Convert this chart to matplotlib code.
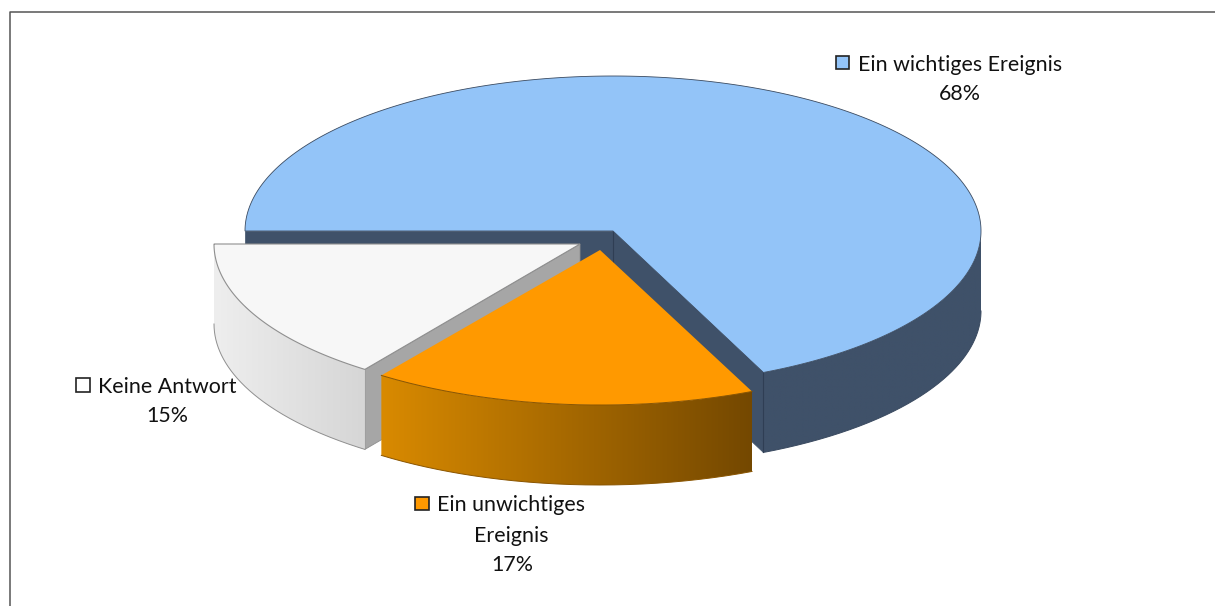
import numpy as np
import matplotlib
matplotlib.use("Agg")
import matplotlib.pyplot as plt
from matplotlib.colors import LinearSegmentedColormap
from matplotlib.patches import Polygon, Rectangle

categories = ["Ein wichtiges Ereignis", "Ein unwichtiges\nEreignis", "Keine Antwort"]
percent_labels = [68, 17, 15]
slice_shares = [68.3, 16.7, 15.0]

W, H = 1215, 606
RXS = [368, 372, 366]
RY, DEPTH = 155, 80
START_ANGLE = 180.0
centers = [(613, 231), (600, 250), (580, 244)]
top_colors = ["#93c4f8", "#ff9900", "#f7f7f7"]
swatch_colors = ["#93c4f8", "#ff9900", "#ffffff"]
wall_colors = [("#3f5169", "#3f5169"), ("#d98a00", "#744800"), ("#eeeeee", "#d6d6d6")]
edge_colors = ["#3a4a60", "#8a5500", "#8f8f8f"]
radial_colors = ["#3f5169", None, "#a6a6a6"]
swatch_xy = [(835.5, 55.5), (415, 496.5), (76, 378)]
label_centers = [960, 511, 167]
label_baselines = [[71], [511, 542], [393]]
pct_baselines = [100, 571, 422]
pct_centers = [960, 512, 167]

plt.rcParams["font.family"] = ["Lato", "DejaVu Sans"]
fig = plt.figure(figsize=(W / 100, H / 100), dpi=100)
ax = fig.add_axes([0, 0, 1, 1])
ax.set_xlim(0, W)
ax.set_ylim(H, 0)
ax.axis("off")

def point(c, rx, a):
    t = np.radians(a)
    return c[0] + rx * np.cos(t), c[1] - RY * np.sin(t)

def arc(c, rx, a0, a1, n=200):
    t = np.radians(np.linspace(a0, a1, n))
    return np.column_stack([c[0] + rx * np.cos(t), c[1] - RY * np.sin(t)])

def rim(c, rx, a0, a1, left, right, edge, z):
    pts = arc(c, rx, a0, a1, 300)
    pts = pts[np.argsort(pts[:, 0])]
    lower = pts + [0, DEPTH]
    outline = np.vstack([pts, lower[::-1]])
    clip = Polygon(outline, closed=True, fc="none", ec="none", transform=ax.transData)
    ax.add_patch(clip)
    cmap = LinearSegmentedColormap.from_list("wall", [left, right])
    im = ax.imshow(np.linspace(0, 1, 256).reshape(1, -1), cmap=cmap, aspect="auto",
                   extent=[pts[0, 0], pts[-1, 0], outline[:, 1].max(), outline[:, 1].min()],
                   zorder=z, interpolation="bilinear")
    im.set_clip_path(clip)
    ax.plot(lower[:, 0], lower[:, 1], color=edge, lw=0.7, zorder=z + 0.1)

bounds = START_ANGLE - np.cumsum([0] + slice_shares) * 3.6

# blue slice: inner walls, outer wall, top
c = centers[0]; rx = RXS[0]; a0, a1 = bounds[0], bounds[1]
for a in (a0, a1):
    p = point(c, rx, a)
    ax.add_patch(Polygon([c, p, (p[0], p[1] + DEPTH), (c[0], c[1] + DEPTH)], closed=True,
                         fc=radial_colors[0], ec=radial_colors[0], lw=0.5, zorder=1))
ax.plot([c[0], c[0]], [c[1], c[1] + DEPTH], color="#2f3e54", lw=0.8, zorder=1.1)
e = point(c, rx, a1)
rim(c, rx, a1, 0, *wall_colors[0], edge_colors[0], 2)
ax.plot([e[0], e[0]], [e[1], e[1] + DEPTH], color="#2f3e54", lw=0.8, zorder=2.5)
top = np.vstack([[c], arc(c, rx, a0, a1, 500)])
ax.add_patch(Polygon(top, closed=True, fc=top_colors[0], ec=edge_colors[0], lw=0.6, zorder=3))

# white slice
c = centers[2]; rx = RXS[2]; a0, a1 = bounds[2], bounds[3]
p = point(c, rx, a0)
ax.add_patch(Polygon([c, p, (p[0], p[1] + DEPTH), (c[0], c[1] + DEPTH)], closed=True,
                     fc=radial_colors[2], ec="#8f8f8f", lw=0.6, zorder=4))
rim(c, rx, a1, a0, *wall_colors[2], edge_colors[2], 5)
ax.add_patch(Polygon(np.vstack([[c], arc(c, rx, a0, a1)]), closed=True, fc=top_colors[2],
                     ec=edge_colors[2], lw=0.8, zorder=6))

# orange slice
c = centers[1]; rx = RXS[1]; a0, a1 = bounds[1], bounds[2]
rim(c, rx, a1, a0, *wall_colors[1], edge_colors[1], 7)
ax.add_patch(Polygon(np.vstack([[c], arc(c, rx, a0, a1)]), closed=True, fc=top_colors[1],
                     ec="none", zorder=8))
ax.plot(*arc(c, rx, a0, a1).T, color=edge_colors[1], lw=0.7, zorder=8.1)

ax.set_xlim(0, W)
ax.set_ylim(H, 0)

# labels
for i, name in enumerate(categories):
    ax.add_patch(Rectangle(swatch_xy[i], 13.5, 13.5, fc=swatch_colors[i], ec="#222222", lw=1.2, zorder=10))
    for line, base in zip(name.split("\n"), label_baselines[i]):
        ax.text(label_centers[i], base, line, fontsize=15.4, color="#111111",
                ha="center", va="baseline", zorder=10)
    ax.text(pct_centers[i], pct_baselines[i], f"{percent_labels[i]}%", fontsize=15.4,
            color="#111111", ha="center", va="baseline", zorder=10)

# chart frame, open to the right and bottom of the crop
ax.plot([10, 10, W], [H, 11.5, 11.5], color="#555555", lw=1.1, zorder=11)

fig.savefig("out.png", dpi=100, facecolor="white")
